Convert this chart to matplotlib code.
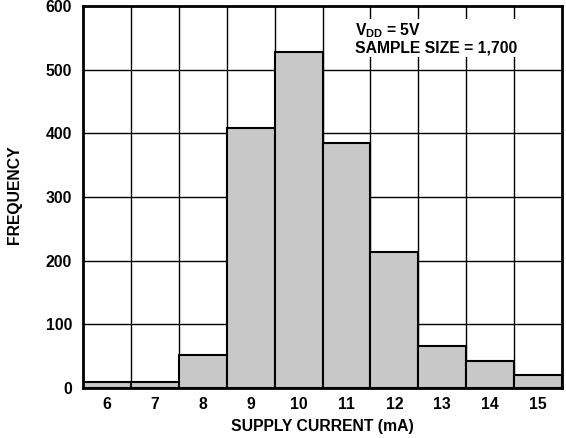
import numpy as np
import matplotlib.pyplot as plt

plt.rcParams['font.family'] = ['Liberation Sans', 'DejaVu Sans']
plt.rcParams['font.weight'] = 'bold'
plt.rcParams['mathtext.fontset'] = 'custom'
plt.rcParams['mathtext.bf'] = 'Liberation Sans:bold'
plt.rcParams['mathtext.rm'] = 'Liberation Sans:bold'

# supply current bins (mA) and counts
current = [6, 7, 8, 9, 10, 11, 12, 13, 14, 15]
freq = [10, 10, 52, 408, 527, 385, 213, 66, 43, 21]

fig = plt.figure(figsize=(5.66, 4.38), dpi=100)
ax = fig.add_axes([83 / 566, 50 / 438, 479 / 566, 382 / 438])

ax.set_xlim(5.5, 15.5)
ax.set_ylim(0, 600)

# grid at bin edges and every 100 counts
for xe in np.arange(6.5, 15.5, 1):
    ax.axvline(xe, color='black', lw=1.0, zorder=0)
for ye in range(100, 600, 100):
    ax.axhline(ye, color='black', lw=1.0, zorder=0)

ax.bar(current, freq, width=1.0, color='#c8c8c8', edgecolor='black',
       linewidth=1.5, zorder=2)

fs = 11.3
ax.set_xticks(current)
ax.set_yticks(range(0, 601, 100))
ax.tick_params(axis='x', length=0, labelsize=fs, pad=6.5)
ax.tick_params(axis='y', length=0, labelsize=fs, pad=8)
for lab in ax.get_xticklabels() + ax.get_yticklabels():
    lab.set_fontweight('bold')

for s in ax.spines.values():
    s.set_linewidth(2)
    s.set_zorder(5)

# axis titles placed in figure pixels
fig.text(322 / 566, 1 - 427 / 438, 'SUPPLY CURRENT (mA)', fontsize=fs,
         fontweight='bold', ha='center', va='center')
fig.text(15 / 566, 1 - 195 / 438, 'FREQUENCY', fontsize=fs,
         fontweight='bold', ha='center', va='center', rotation=90)

ax.text(11.18, 549, '$\\mathbf{V_{DD}}$ = 5V\nSAMPLE SIZE = 1,700',
        fontsize=fs, fontweight='bold', va='center', ha='left',
        linespacing=1.0, zorder=3,
        bbox=dict(facecolor='white', edgecolor='none', pad=1))

fig.savefig('out.png', dpi=100)
